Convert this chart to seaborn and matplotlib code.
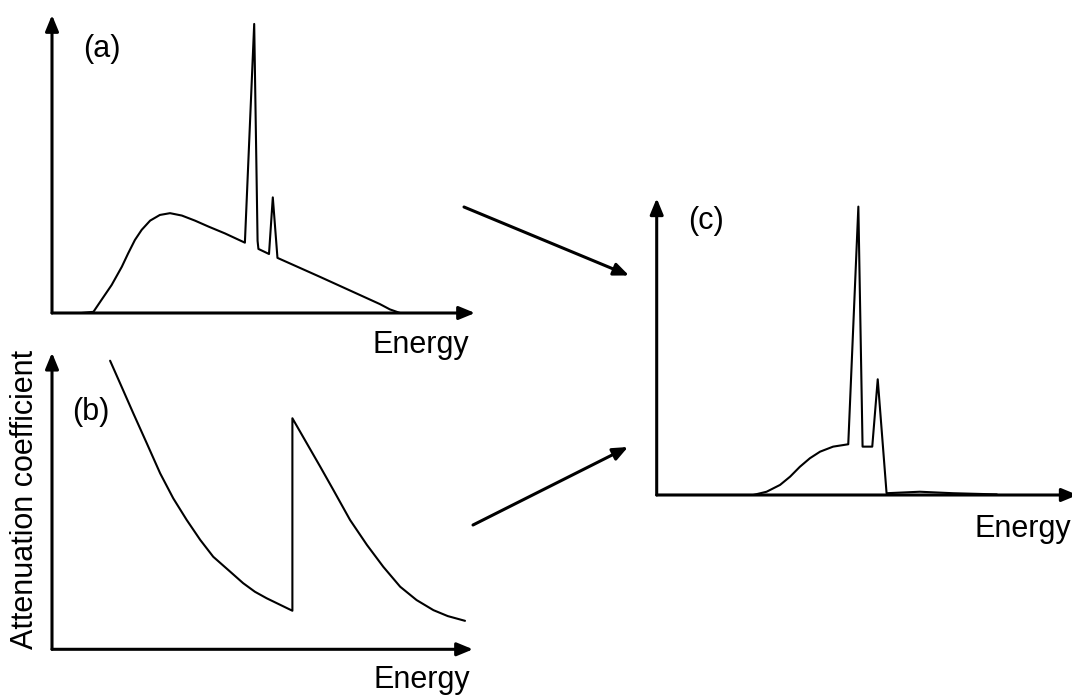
import matplotlib
matplotlib.use("Agg")
import matplotlib.pyplot as plt
import pandas as pd
import seaborn as sns

# ---- spectrum (a): incident X-ray spectrum, energy vs intensity (arbitrary units 0-100)
spec_energy = [7.0, 9.8, 11.7, 14.1, 16.5, 18.0, 19.6, 21.2, 23.2, 25.5, 27.9, 30.7,
               33.8, 37.0, 40.9, 45.6, 47.8, 48.6, 48.8, 51.3, 52.2, 53.3, 63.4,
               77.5, 79.9, 82.3]
spec_intensity = [0.0, 0.4, 4.4, 9.4, 15.5, 20.0, 24.5, 27.9, 31.0, 32.9, 33.5, 32.7,
                  31.0, 29.0, 26.7, 23.6, 97.0, 24.2, 21.5, 19.8, 38.8, 18.5, 12.1,
                  3.0, 1.2, 0.0]

# ---- attenuation coefficient (b) with an absorption edge
atten_energy = [13.8, 16.2, 19.3, 22.5, 25.7, 28.8, 32.0, 35.2, 38.3, 42.3, 45.4, 48.2,
                51.0, 57.1, 57.1, 60.5, 63.7, 66.8, 70.8, 74.8, 78.7, 82.7, 86.6, 90.6,
                94.0, 98.1]
atten_coeff = [97.3, 89.6, 79.6, 69.5, 59.3, 50.9, 43.6, 36.9, 31.2, 26.2, 22.3, 19.4,
               17.2, 13.0, 77.9, 69.5, 61.6, 53.8, 43.6, 35.2, 27.8, 21.1, 16.6, 13.2,
               11.2, 9.6]

# ---- transmitted spectrum (c)
trans_energy = [0.0, 22.9, 26.1, 29.3, 31.7, 34.0, 36.4, 38.8, 41.9, 45.5, 47.9, 48.9,
                51.2, 52.5, 54.6, 62.5, 70.4, 80.8]
trans_intensity = [0.0, 0.0, 1.1, 3.4, 6.2, 9.5, 12.4, 14.6, 16.3, 17.1, 97.2, 16.3,
                   16.3, 39.0, 0.6, 1.1, 0.6, 0.2]

panel_labels = ["(a)", "(b)", "(c)"]
x_label = "Energy"
y_label = "Attenuation coefficient"

sns.set_theme(style="white")
plt.rcParams["font.family"] = ["Liberation Sans", "DejaVu Sans"]
plt.rcParams["text.color"] = "black"

W, H = 1072, 695
fig = plt.figure(figsize=(W / 100, H / 100), dpi=100)


def add_axes_px(x0, y0, w, h):
    """Axes placed by pixel origin (lower-left corner, y measured from the top)."""
    return fig.add_axes([x0 / W, 1 - y0 / H, w / W, h / H])


ax_a = add_axes_px(52, 313, 423, 298)
ax_b = add_axes_px(52, 649.3, 421, 296.6)
ax_c = add_axes_px(656.7, 495, 421, 296.7)

axis_arrow = dict(arrowstyle="-|>,head_length=0.8,head_width=0.33",
                  color="black", lw=2.2, shrinkA=0, shrinkB=0)
curve_kw = dict(color="black", linewidth=1.5, sort=False, estimator=None)

panels = [
    (ax_a, spec_energy, spec_intensity),
    (ax_b, atten_energy, atten_coeff),
    (ax_c, trans_energy, trans_intensity),
]
for ax, xs, ys in panels:
    df = pd.DataFrame({"energy": xs, "value": ys})
    sns.lineplot(data=df, x="energy", y="value", ax=ax, **curve_kw)
    for ln in ax.lines:
        ln.set_solid_joinstyle("round")
    ax.set_xlim(0, 100)
    ax.set_ylim(0, 100)
    ax.set_xticks([])
    ax.set_yticks([])
    ax.set_xlabel("")
    ax.set_ylabel("")
    for s in ax.spines.values():
        s.set_visible(False)
    ax.patch.set_alpha(0)
    # arrowed axes
    ax.annotate("", xy=(1, 0), xytext=(0, 0), xycoords="axes fraction",
                arrowprops=axis_arrow)
    ax.annotate("", xy=(0, 1), xytext=(0, 0), xycoords="axes fraction",
                arrowprops=axis_arrow)

fs = 22
ax_a.text(0.117, 0.886, panel_labels[0], transform=ax_a.transAxes,
          ha="center", va="center", fontsize=fs, color="black")
ax_b.text(0.093, 0.80, panel_labels[1], transform=ax_b.transAxes,
          ha="center", va="center", fontsize=fs, color="black")
ax_c.text(0.116, 0.922, panel_labels[2], transform=ax_c.transAxes,
          ha="center", va="center", fontsize=fs, color="black")

ax_a.text(0.987, -0.133, x_label, transform=ax_a.transAxes,
          ha="right", va="baseline", fontsize=fs, color="black")
ax_b.text(0.993, -0.131, x_label, transform=ax_b.transAxes,
          ha="right", va="baseline", fontsize=fs, color="black")
fig.text(1071 / W, 1 - 536.7 / H, x_label,
         ha="right", va="baseline", fontsize=fs, color="black")

fig.text(25 / W, 1 - 499.5 / H, y_label, rotation=90,
         ha="center", va="center", fontsize=fs, color="black")

# arrows leading from (a) and (b) into (c)
link_arrow = dict(arrowstyle="-|>,head_length=0.9,head_width=0.38",
                  color="black", lw=2.2, shrinkA=0, shrinkB=0)
fig.add_artist(matplotlib.patches.FancyArrowPatch(
    (464 / W, 1 - 207 / H), (629 / W, 1 - 275.5 / H),
    transform=fig.transFigure, mutation_scale=10, **link_arrow))
fig.add_artist(matplotlib.patches.FancyArrowPatch(
    (473 / W, 1 - 525 / H), (628 / W, 1 - 447 / H),
    transform=fig.transFigure, mutation_scale=10, **link_arrow))

fig.savefig("out.png", dpi=100, facecolor="white")
